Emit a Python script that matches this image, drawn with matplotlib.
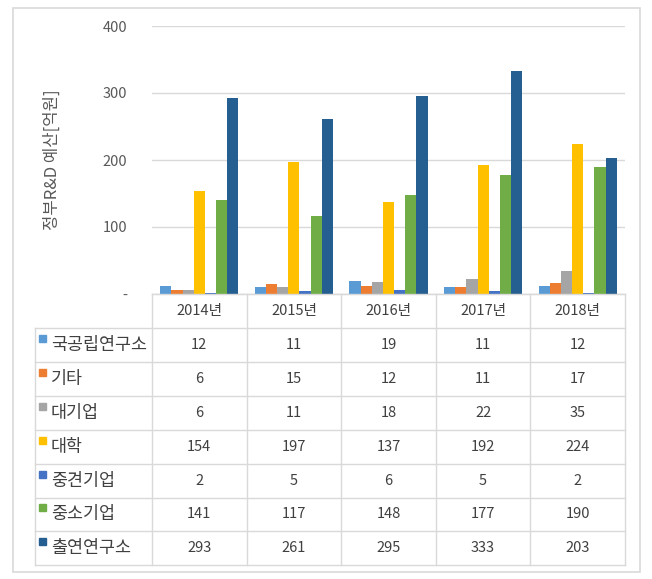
import numpy as np
import matplotlib.pyplot as plt
from matplotlib.patches import Rectangle

plt.rcParams['font.family'] = ['Noto Sans CJK KR', 'DejaVu Sans']

years = ['2014년', '2015년', '2016년', '2017년', '2018년']
series = ['국공립연구소', '기타', '대기업', '대학', '중견기업', '중소기업', '출연연구소']
national_lab = [12, 11, 19, 11, 12]
etc = [6, 15, 12, 11, 17]
large_corp = [6, 11, 18, 22, 35]
university = [154, 197, 137, 192, 224]
midsize_corp = [2, 5, 6, 5, 2]
small_corp = [141, 117, 148, 177, 190]
gov_institute = [293, 261, 295, 333, 203]
values = [national_lab, etc, large_corp, university, midsize_corp, small_corp, gov_institute]
colors = ['#5B9BD5', '#ED7D31', '#A5A5A5', '#FFC000', '#4472C4', '#70AD47', '#255E91']

W, H = 652, 579
fig = plt.figure(figsize=(W / 100, H / 100), dpi=100)

# pixel layout
px_left, px_right, px_top, px_zero = 152, 625, 26, 294
ax = fig.add_axes([px_left / W, 1 - px_zero / H, (px_right - px_left) / W, (px_zero - px_top) / H])

n = len(series)
bw = 0.118
x = np.arange(len(years))
for i, (name, vals, c) in enumerate(zip(series, values, colors)):
    ax.bar(x + (i - (n - 1) / 2) * bw, vals, bw, color=c, label=name, zorder=3)

ax.set_xlim(-0.5, len(years) - 0.5)
ax.set_ylim(0, 400)
ax.set_yticks([0, 100, 200, 300, 400])
ax.set_yticklabels(['-', '100', '200', '300', '400'])
ax.set_xticks([])
ax.grid(axis='y', color='#D9D9D9', lw=1, zorder=0)
for s in ['top', 'right', 'left']:
    ax.spines[s].set_visible(False)
ax.spines['bottom'].set_color('#D9D9D9')
ax.tick_params(axis='y', length=0, pad=18, labelsize=10.5, labelcolor='#595959')
ax.set_ylabel('정부R&D 예산[억원]', fontsize=12, color='#595959', labelpad=30)

# overlay for frame + data table
ov = fig.add_axes([0, 0, 1, 1], zorder=-1)
ov.set_xlim(0, W)
ov.set_ylim(H, 0)
ov.axis('off')
ov.add_patch(Rectangle((13, 8), 627, 564, fill=False, ec='#D9D9D9', lw=1.2))

ov2 = fig.add_axes([0, 0, 1, 1])
ov2.set_xlim(0, W)
ov2.set_ylim(H, 0)
ov2.axis('off')

lc = '#D9D9D9'
col_x = np.linspace(px_left, px_right, len(years) + 1)
row_top = 328
row_h = 33.9
row_y = row_top + np.arange(n + 1) * row_h
tab_left = 35

ov2.plot([px_left, px_right], [px_zero, px_zero], color=lc, lw=1)
for yy in row_y:
    ov2.plot([tab_left, px_right], [yy, yy], color=lc, lw=1)
ov2.plot([tab_left, tab_left], [row_top, row_y[-1]], color=lc, lw=1)
for xx in col_x:
    ov2.plot([xx, xx], [px_zero, row_y[-1]], color=lc, lw=1)

for j, yr in enumerate(years):
    cx = (col_x[j] + col_x[j + 1]) / 2
    ov2.text(cx, (px_zero + row_top) / 2, yr, ha='center', va='center', fontsize=10.5, color='#404040')

for i, (name, vals, c) in enumerate(zip(series, values, colors)):
    cy = row_y[i] + row_h / 2
    ov2.add_patch(Rectangle((39, cy - 10), 7, 7, color=c))
    ov2.text(51, cy, name, ha='left', va='center', fontsize=12.5, color='#404040')
    for j, v in enumerate(vals):
        cx = (col_x[j] + col_x[j + 1]) / 2
        ov2.text(cx, cy, str(v), ha='center', va='center', fontsize=10.5, color='#404040')

fig.savefig('out.png', dpi=100)
